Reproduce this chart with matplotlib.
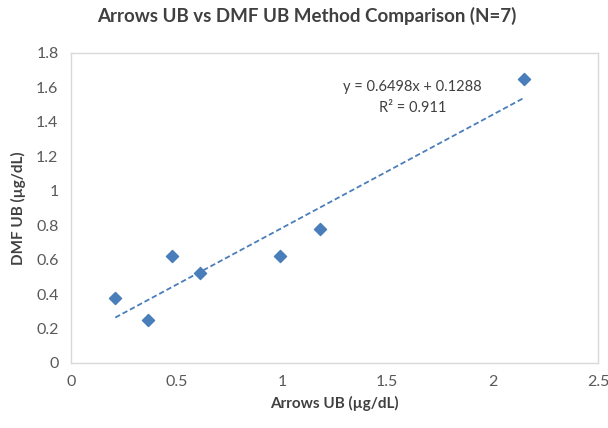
import numpy as np
import matplotlib.pyplot as plt

plt.rcParams['font.family'] = ['Lato', 'DejaVu Sans']

# data
arrows_ub = [0.21, 0.365, 0.48, 0.61, 0.99, 1.18, 2.15]
dmf_ub = [0.377, 0.25, 0.62, 0.52, 0.62, 0.78, 1.65]
x_ticks = [0, 0.5, 1, 1.5, 2, 2.5]
x_tick_labels = ['0', '0.5', '1', '1.5', '2', '2.5']
y_ticks = [0, 0.2, 0.4, 0.6, 0.8, 1, 1.2, 1.4, 1.6, 1.8]
y_tick_labels = ['0', '0.2', '0.4', '0.6', '0.8', '1', '1.2', '1.4', '1.6', '1.8']
eq_text = 'y = 0.6498x + 0.1288'
r2_text = 'R² = 0.911'


def main():
    fig = plt.figure(figsize=(6.08, 4.28), dpi=100)
    ax = fig.add_axes([0.1168, 0.1519, 0.8668, 0.7243])

    blue = '#4a7ebb'
    ax.scatter(arrows_ub, dmf_ub, marker='D', s=38, color=blue, zorder=3)

    # linear trendline
    slope, intercept = np.polyfit(arrows_ub, dmf_ub, 1)
    xs = np.array([min(arrows_ub), max(arrows_ub)])
    ax.plot(xs, slope * xs + intercept, linestyle=(0, (3, 1.6)), color=blue, linewidth=1.3)

    ax.text(1.62, 1.6, eq_text, ha='center', va='center', fontsize=10.5, color='#404040')
    ax.text(1.62, 1.48, r2_text, ha='center', va='center', fontsize=10.5, color='#404040')

    ax.set_xlim(0, 2.5)
    ax.set_ylim(0, 1.8)
    ax.set_xticks(x_ticks)
    ax.set_xticklabels(x_tick_labels)
    ax.set_yticks(y_ticks)
    ax.set_yticklabels(y_tick_labels)
    ax.tick_params(length=0, labelsize=11.5, colors='#595959', pad=9)

    for s in ax.spines.values():
        s.set_color('#d9d9d9')
        s.set_linewidth(1)

    ax.set_xlabel('Arrows UB (µg/dL)', fontsize=11, fontweight='bold', color='#404040', labelpad=5)
    ax.set_ylabel('DMF UB (µg/dL)', fontsize=11, fontweight='bold', color='#404040', labelpad=7)
    fig.suptitle('Arrows UB vs DMF UB Method Comparison (N=7)', x=0.505, y=0.985,
                 fontsize=13.5, fontweight='bold', color='#404040')

    plt.savefig('out.png', dpi=100)


if __name__ == '__main__':
    main()
